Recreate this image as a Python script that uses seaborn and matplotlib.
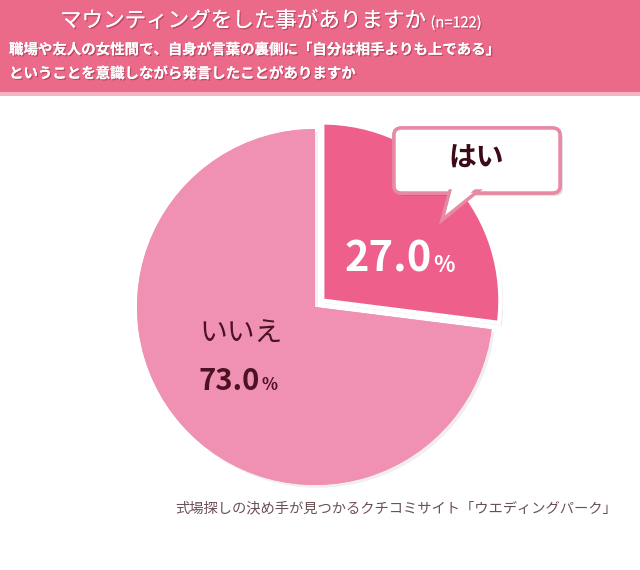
import matplotlib
matplotlib.use("Agg")
import matplotlib.pyplot as plt
import matplotlib.patheffects as pe
from matplotlib.patches import Rectangle, FancyBboxPatch, Polygon
import seaborn as sns

labels = ["はい", "いいえ"]
values = [27.0, 73.0]
colors = ["#EE5F8C", "#F091B3"]

title = "マウンティングをした事がありますか"
n_text = "(n=122)"
sub1 = "職場や友人の女性間で、自身が言葉の裏側に「自分は相手よりも上である」"
sub2 = "ということを意識しながら発言したことがありますか"
footer = "式場探しの決め手が見つかるクチコミサイト「ウエディングパーク」"

sns.set_style("white")
plt.rcParams["font.family"] = ["Noto Sans CJK JP", "DejaVu Sans"]

W, H = 640, 570
fig = plt.figure(figsize=(6.4, 5.7), dpi=100)
fig.patch.set_facecolor("white")


def fx(px):
    return px / W


def fy(py):
    return 1 - py / H


# header banner
fig.patches.append(Rectangle((0, fy(92)), 1, 92 / H, transform=fig.transFigure,
                             facecolor="#EB6A8A", edgecolor="none", zorder=0))
fig.patches.append(Rectangle((0, fy(96)), 1, 4 / H, transform=fig.transFigure,
                             facecolor="#F6B3C3", edgecolor="none", zorder=0))

shadow = [pe.withSimplePatchShadow(offset=(1, -1), shadow_rgbFace="#9a3550", alpha=0.6), pe.Normal()]
t = fig.text(fx(60), fy(21), title, color="white", fontsize=15.5, va="center", ha="left",
             path_effects=shadow)
fig.canvas.draw()
bb = t.get_window_extent()
fig.text(bb.x1 / W + fx(5), fy(23), n_text, color="white", fontsize=10.5, va="center",
         ha="left", path_effects=shadow)
fig.text(fx(9), fy(50), sub1, color="white", fontsize=10.4, fontweight="bold", va="center",
         ha="left", path_effects=shadow)
fig.text(fx(9), fy(74), sub2, color="white", fontsize=10.4, fontweight="bold", va="center",
         ha="left", path_effects=shadow)

# pie
cx, cy, r = 315, 307, 178
ax = fig.add_axes([fx(cx - r), fy(cy + r), 2 * r / W, 2 * r / H])
wedges, _ = ax.pie(values, colors=colors, startangle=90, counterclock=False,
                   explode=[0.055, 0], radius=1,
                   wedgeprops=dict(linewidth=0))
wedges[0].set_edgecolor("white")
wedges[0].set_linewidth(3)
wedges[0].set_zorder(3)
wedges[0].set_path_effects([pe.withSimplePatchShadow(offset=(2, -2), alpha=0.12), pe.Normal()])
wedges[1].set_path_effects([pe.withSimplePatchShadow(offset=(2, -2), alpha=0.08), pe.Normal()])
for w in wedges:
    w.set_clip_on(False)
ax.set_xlim(-1, 1)
ax.set_ylim(-1, 1)
ax.set_aspect("auto")
ax.axis("off")


def dx(px):
    return (px - cx) / r


def dy(py):
    return (cy - py) / r


# labels
ax.text(dx(432), dy(272), f"{values[0]:.1f}", color="white", fontsize=30, fontweight="bold",
        ha="right", va="baseline", zorder=5)
ax.text(dx(433), dy(272), "%", color="white", fontsize=16, fontweight="bold",
        ha="left", va="baseline", zorder=5)
ax.text(dx(199), dy(334), labels[1], color="#4A1222", fontsize=20, ha="left", va="center",
        zorder=5)
ax.text(dx(260), dy(390), f"{values[1]:.1f}", color="#4A1222", fontsize=21, fontweight="bold",
        ha="right", va="baseline", zorder=5)
ax.text(dx(261), dy(390), "%", color="#4A1222", fontsize=12, fontweight="bold",
        ha="left", va="baseline", zorder=5)

# speech bubble
bx0, by0, bx1, by1 = 394, 128, 560, 193
fig.patches.append(FancyBboxPatch((fx(bx0), fy(by1)), (bx1 - bx0) / W, (by1 - by0) / H,
                                  boxstyle="round,pad=0,rounding_size=0.012",
                                  transform=fig.transFigure, facecolor="white",
                                  edgecolor="#E88AA3", linewidth=2.5, zorder=6,
                                  path_effects=[pe.withSimplePatchShadow(offset=(2, -2), alpha=0.2),
                                                pe.Normal()]))
fig.patches.append(Polygon([(fx(450), fy(191)), (fx(478), fy(191)), (fx(442), fy(220))],
                           closed=True, transform=fig.transFigure, facecolor="white",
                           edgecolor="#E88AA3", linewidth=2.5, zorder=6))
fig.patches.append(Polygon([(fx(452), fy(189)), (fx(475), fy(189)), (fx(446), fy(213))],
                           closed=True, transform=fig.transFigure, facecolor="white",
                           edgecolor="none", zorder=7))
fig.text(fx(476), fy(159), labels[0], color="#3C0A16", fontsize=20, fontweight="bold",
         ha="center", va="center", zorder=8)

# footer
fig.text(fx(396), fy(508), footer, color="#6A5055", fontsize=10.3, ha="center", va="center")

fig.savefig("out.png", dpi=100, facecolor="white")
